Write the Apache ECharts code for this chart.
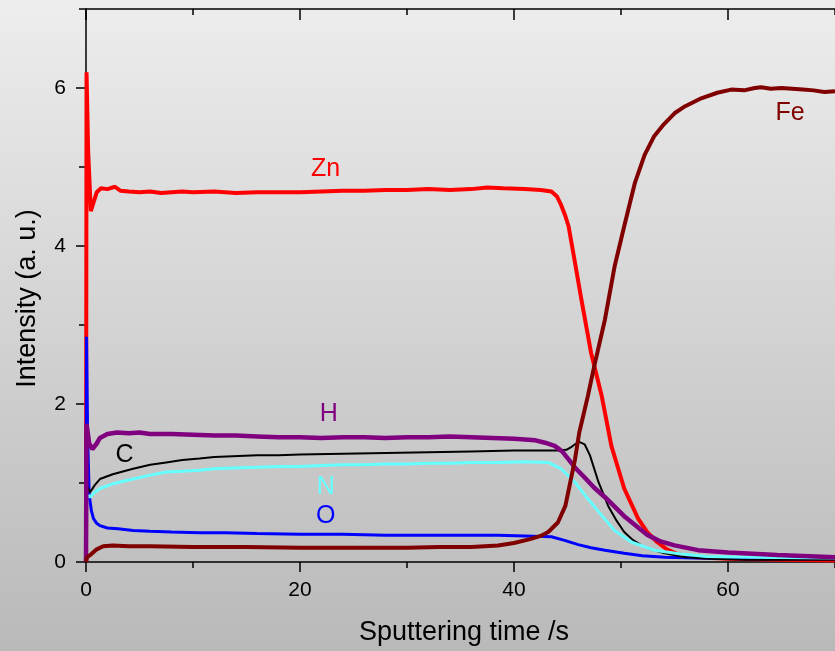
<!DOCTYPE html>
<html>
<head>
<meta charset="utf-8">
<title>Sputter depth profile</title>
<script src="https://cdn.jsdelivr.net/npm/echarts@6/dist/echarts.min.js"></script>
<style>
  html, body { margin: 0; padding: 0; }
  #chart { width: 835px; height: 651px; }
</style>
</head>
<body>
<div id="chart"></div>
<script>
// Depth profile: element intensities (a. u.) vs sputtering time (s)
const timeMajorTicks = [0, 20, 40, 60];
const timeMinorTicks = [10, 30, 50, 70];
const intensityMajorTicks = [0, 2, 4, 6];
const intensityMinorTicks = [1, 3, 5, 7];

const zincPoints = [
  [0, 0], [0.05, 6.2], [0.2, 5.2], [0.45, 4.44], [0.7, 4.55], [1.0, 4.68], [1.4, 4.73],
  [2.0, 4.72], [2.7, 4.75], [3.2, 4.70], [4, 4.69], [5, 4.68], [6, 4.69], [7, 4.67],
  [8, 4.68], [9, 4.69], [10, 4.68], [12, 4.69], [14, 4.67], [16, 4.68], [18, 4.68],
  [20, 4.68], [22, 4.69], [24, 4.70], [26, 4.70], [28, 4.71], [30, 4.71], [32, 4.72],
  [34, 4.71], [36, 4.72], [37.5, 4.74], [39, 4.73], [41, 4.72], [42.5, 4.71], [43.5, 4.69],
  [44.0, 4.63], [44.4, 4.52], [44.8, 4.38], [45.1, 4.25], [45.7, 3.79], [46.3, 3.32],
  [47.2, 2.65], [48.2, 2.10], [49.1, 1.47], [50.3, 0.93], [51.6, 0.55], [52.5, 0.37],
  [53.4, 0.25], [54.3, 0.16], [55.3, 0.10], [57, 0.06], [60, 0.04], [65, 0.03], [70, 0.02]
];

const oxygenPoints = [
  [0, 0], [0.05, 2.85], [0.15, 1.6], [0.3, 0.85], [0.5, 0.65], [0.7, 0.55], [1.0, 0.49],
  [1.3, 0.46], [2, 0.43], [3, 0.42], [4.4, 0.40], [6, 0.39], [8, 0.38], [10.6, 0.37],
  [13, 0.37], [16, 0.36], [20, 0.35], [24, 0.35], [28, 0.34], [32, 0.34], [36, 0.34],
  [38.5, 0.34], [41, 0.33], [43.5, 0.32], [44.8, 0.27], [46, 0.22], [47.2, 0.18],
  [48.5, 0.15], [50.3, 0.11], [52, 0.08], [54.1, 0.06], [57, 0.05], [62, 0.04], [70, 0.04]
];

const carbonPoints = [
  [0.15, 0.95], [0.37, 0.88], [0.8, 0.97], [1.3, 1.05], [2.5, 1.11], [4.4, 1.18], [6, 1.23],
  [7.5, 1.26], [9, 1.29], [10.6, 1.31], [12, 1.33], [13.7, 1.34], [16, 1.35], [18, 1.35],
  [20, 1.36], [24, 1.37], [28, 1.38], [32, 1.39], [36, 1.40], [40, 1.41], [43, 1.41],
  [44.1, 1.41], [44.9, 1.42], [45.3, 1.45], [45.7, 1.49], [46.1, 1.52], [46.6, 1.49],
  [47.1, 1.35], [47.9, 1.01], [48.8, 0.71], [49.6, 0.52], [50.3, 0.38], [51.1, 0.28],
  [51.9, 0.21], [53, 0.15], [54.1, 0.11], [56, 0.06], [58.4, 0.04], [62, 0.03], [70, 0.03]
];

const nitrogenPoints = [
  [0.2, 0.85], [0.37, 0.82], [0.8, 0.88], [1.3, 0.93], [2.5, 0.99], [4.4, 1.05], [6, 1.10],
  [7.5, 1.14], [9, 1.15], [10.6, 1.16], [12, 1.18], [13.7, 1.19], [16, 1.20], [18, 1.21],
  [20, 1.21], [22, 1.22], [24, 1.23], [26, 1.23], [28, 1.24], [30, 1.24], [32, 1.25],
  [34, 1.25], [36, 1.26], [38.5, 1.26], [41, 1.27], [43.2, 1.26], [44.4, 1.18],
  [45.7, 1.01], [46.9, 0.80], [48.2, 0.59], [49.4, 0.40], [51.0, 0.25], [53.1, 0.15],
  [55.6, 0.10], [58, 0.07], [62, 0.06], [70, 0.05]
];

const hydrogenPoints = [
  [0, 0], [0.05, 1.75], [0.3, 1.50], [0.6, 1.43], [1.0, 1.50], [1.3, 1.57], [2, 1.62],
  [2.9, 1.64], [4, 1.63], [5, 1.64], [6, 1.62], [8, 1.62], [10, 1.61], [12, 1.60],
  [14, 1.60], [16, 1.59], [18, 1.58], [20, 1.58], [22, 1.57], [24, 1.58], [26, 1.58],
  [28, 1.57], [30, 1.58], [32, 1.58], [34, 1.59], [36, 1.58], [38, 1.57], [40, 1.56],
  [42, 1.54], [42.9, 1.51], [43.8, 1.47], [44.5, 1.40], [45.1, 1.30], [45.8, 1.18],
  [46.6, 1.07], [47.5, 0.94], [48.5, 0.82], [49.4, 0.70], [50.3, 0.58], [51.4, 0.46],
  [52.5, 0.34], [53.7, 0.26], [55.0, 0.21], [57.2, 0.15], [60, 0.12], [64.6, 0.09], [70, 0.06]
];

const ironPoints = [
  [0, 0], [0.1, 0.06], [0.5, 0.10], [1.0, 0.16], [1.6, 0.20], [2.5, 0.21], [4, 0.20],
  [6, 0.20], [10, 0.19], [15, 0.19], [20, 0.18], [25, 0.18], [30, 0.18], [33, 0.19],
  [36, 0.19], [38.5, 0.21], [40, 0.24], [41.5, 0.29], [42.5, 0.33], [43.2, 0.38],
  [44.1, 0.50], [44.8, 0.71], [45.2, 0.97], [45.7, 1.30], [46.1, 1.64], [46.4, 1.81],
  [46.9, 2.10], [47.5, 2.48], [48.5, 3.07], [49.4, 3.74], [50.3, 4.25], [51.3, 4.80],
  [52.2, 5.15], [53.1, 5.39], [54, 5.54], [55, 5.68], [56, 5.77], [57.5, 5.87], [59, 5.94],
  [60.3, 5.98], [61.5, 5.97], [62.5, 6.00], [63.1, 6.01], [64, 5.99], [65, 6.00],
  [66, 5.99], [67, 5.98], [68, 5.97], [69, 5.95], [70, 5.96]
];

const FONT = '"Liberation Sans", Arial, sans-serif';

function curve(name, points, color, width, labelAt) {
  return {
    name: name,
    type: 'line',
    data: points,
    showSymbol: false,
    symbol: 'none',
    animation: false,
    lineStyle: { color: color, width: width },
    itemStyle: { color: color },
    markPoint: {
      symbol: 'circle',
      symbolSize: 0,
      animation: false,
      label: {
        show: true,
        position: 'inside',
        offset: [0, 3],
        formatter: name,
        color: color,
        fontSize: 25,
        fontFamily: FONT
      },
      data: [{ coord: labelAt }]
    }
  };
}

const chart = echarts.init(document.getElementById('chart'), null, { renderer: 'canvas' });

const axisLine = { show: true, lineStyle: { color: '#000', width: 1.5 } };
const tickStyle = { color: '#000', width: 1.5 };

chart.setOption({
  animation: false,
  backgroundColor: {
    type: 'linear', x: 0, y: 0, x2: 0, y2: 1,
    colorStops: [
      { offset: 0, color: '#ededed' },
      { offset: 1, color: '#b9b9b9' }
    ]
  },
  grid: { left: 86, top: 9, width: 752, height: 554 },
  xAxis: [
    {
      type: 'value', position: 'bottom', min: 0, max: 70,
      axisLine: axisLine,
      axisTick: { show: true, inside: false, length: 10, customValues: timeMajorTicks, lineStyle: tickStyle },
      axisLabel: { show: true, customValues: timeMajorTicks, margin: 18, color: '#000', fontSize: 21, fontFamily: FONT },
      splitLine: { show: false },
      name: 'Sputtering time /s',
      nameLocation: 'middle',
      nameGap: 57,
      nameTextStyle: { color: '#000', fontSize: 27, fontFamily: FONT, padding: [0, 0, 0, 7] }
    },
    {
      type: 'value', position: 'bottom', min: 0, max: 70,
      axisLine: { show: false },
      axisTick: { show: true, inside: false, length: 6, customValues: timeMinorTicks, lineStyle: tickStyle },
      axisLabel: { show: false },
      splitLine: { show: false }
    },
    {
      type: 'value', position: 'top', min: 0, max: 70,
      axisLine: axisLine,
      axisTick: { show: true, inside: true, length: 11, customValues: timeMajorTicks, lineStyle: tickStyle },
      axisLabel: { show: false },
      splitLine: { show: false }
    },
    {
      type: 'value', position: 'top', min: 0, max: 70,
      axisLine: { show: false },
      axisTick: { show: true, inside: true, length: 6, customValues: timeMinorTicks, lineStyle: tickStyle },
      axisLabel: { show: false },
      splitLine: { show: false }
    }
  ],
  yAxis: [
    {
      type: 'value', position: 'left', min: 0, max: 7,
      axisLine: axisLine,
      axisTick: { show: true, inside: false, length: 10, customValues: intensityMajorTicks, lineStyle: tickStyle },
      axisLabel: { show: true, customValues: intensityMajorTicks, margin: 20, color: '#000', fontSize: 21, fontFamily: FONT },
      splitLine: { show: false },
      name: 'Intensity (a. u.)',
      nameLocation: 'middle',
      nameGap: 45,
      nameRotate: 90,
      nameTextStyle: { color: '#000', fontSize: 27, fontFamily: FONT, padding: [0, 26, 0, 0] }
    },
    {
      type: 'value', position: 'left', min: 0, max: 7,
      axisLine: { show: false },
      axisTick: { show: true, inside: false, length: 7, customValues: intensityMinorTicks, lineStyle: tickStyle },
      axisLabel: { show: false },
      splitLine: { show: false }
    }
  ],
  series: [
    curve('Zn', zincPoints, '#ff0000', 4, [22.4, 5.01]),
    curve('O', oxygenPoints, '#0000ff', 3, [22.4, 0.62]),
    curve('C', carbonPoints, '#000000', 2, [3.6, 1.39]),
    curve('N', nitrogenPoints, '#66ffff', 3, [22.4, 0.99]),
    curve('H', hydrogenPoints, '#800080', 4.5, [22.7, 1.91]),
    curve('Fe', ironPoints, '#800000', 4, [65.8, 5.72])
  ]
});
</script>
</body>
</html>
